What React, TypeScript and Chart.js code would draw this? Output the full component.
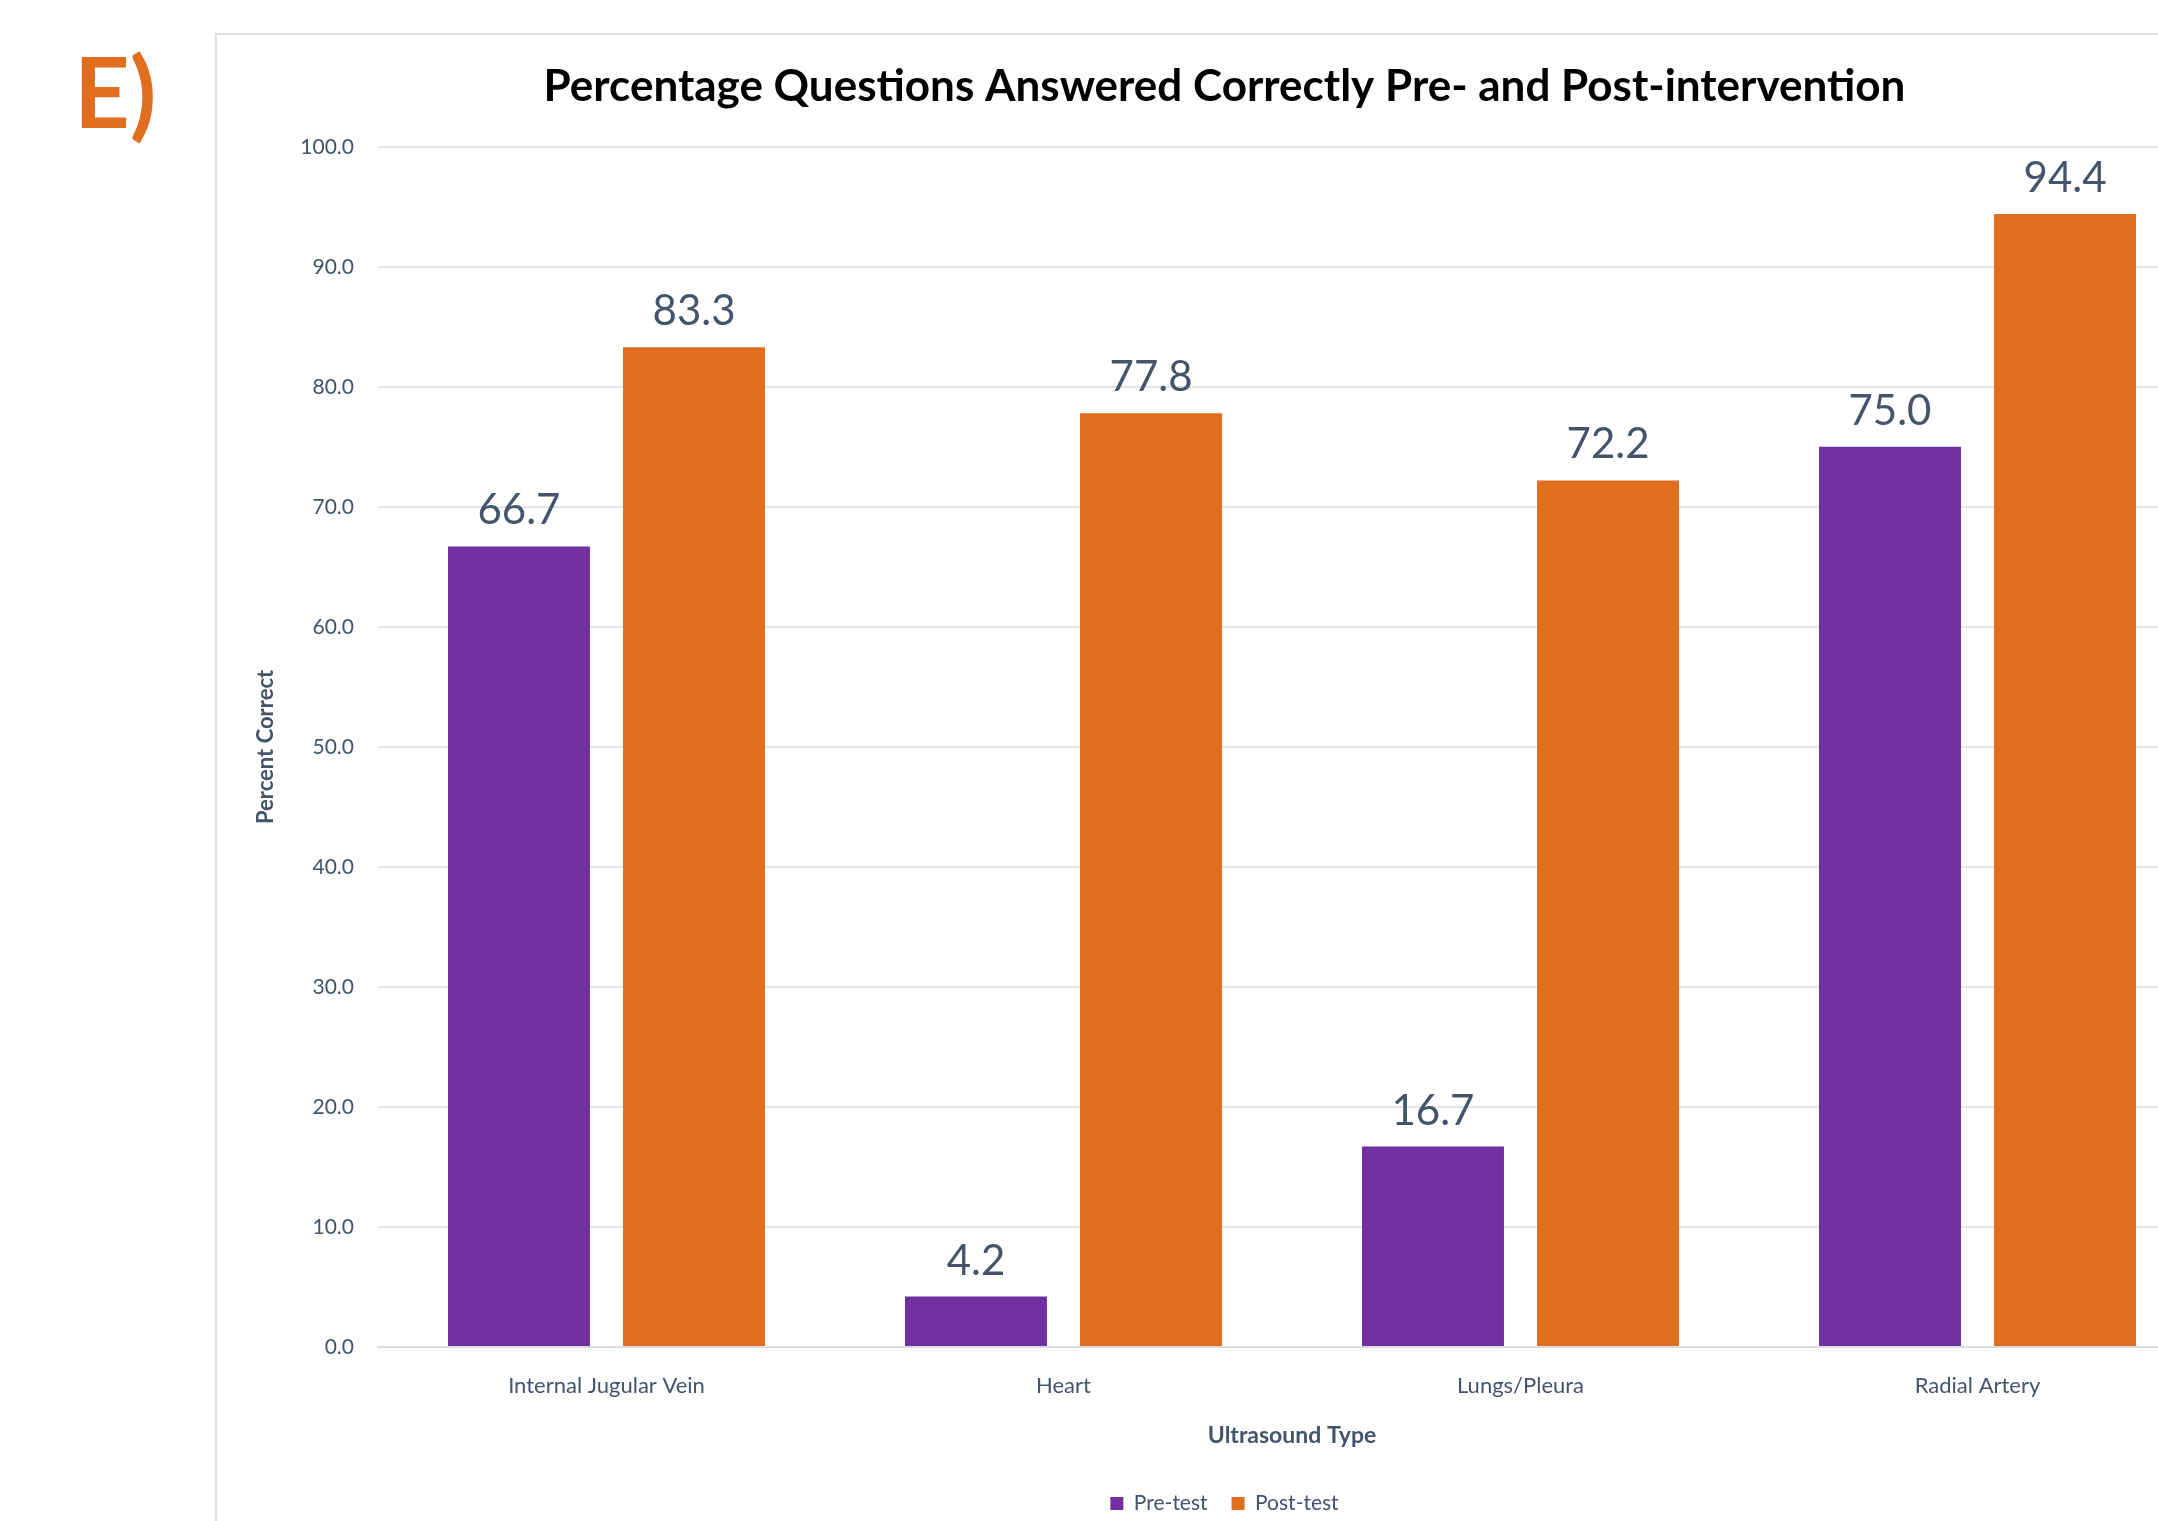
import React, { useEffect, useRef } from "react";
import { Chart, registerables } from "chart.js";

Chart.register(...registerables);

const categories = ["Internal Jugular Vein", "Heart", "Lungs/Pleura", "Radial Artery"];
const preTest = [66.7, 4.2, 16.7, 75.0];
const postTest = [83.3, 77.8, 72.2, 94.4];
const seriesNames = ["Pre-test", "Post-test"];
const chartTitle = "Percentage Questions Answered Correctly Pre- and Post-intervention";
const xTitle = "Ultrasound Type";
const yTitle = "Percent Correct";
const panelLabel = "E)";

const FONT = "Lato, 'Open Sans', sans-serif";
const TEXT = "#44546A";
const PURPLE = "#7030A0";
const ORANGE = "#E06E1E";

const CANVAS_W = 2014;
const CANVAS_H = 1489;

const dataLabels = {
  id: "dataLabels",
  afterDatasetsDraw(chart: any) {
    const ctx = chart.ctx;
    ctx.save();
    ctx.font = `42px ${FONT}`;
    ctx.fillStyle = TEXT;
    ctx.textAlign = "center";
    ctx.textBaseline = "alphabetic";
    chart.data.datasets.forEach((ds: any, i: number) => {
      const meta = chart.getDatasetMeta(i);
      meta.data.forEach((bar: any, j: number) => {
        ctx.fillText(Number(ds.data[j]).toFixed(1), bar.x, bar.y - 22);
      });
    });
    ctx.restore();
  },
};

function BarChart() {
  const ref = useRef<HTMLCanvasElement | null>(null);
  useEffect(() => {
    if (!ref.current) return;
    const chart = new Chart(ref.current, {
      type: "bar",
      data: {
        labels: categories,
        datasets: [
          { label: seriesNames[0], data: preTest, backgroundColor: PURPLE, categoryPercentage: 0.766, barPercentage: 0.811 },
          { label: seriesNames[1], data: postTest, backgroundColor: ORANGE, categoryPercentage: 0.766, barPercentage: 0.811 },
        ],
      },
      options: {
        responsive: false,
        animation: false,
        devicePixelRatio: 1,
        layout: { padding: { left: 26, right: 25, top: 0, bottom: 0 } },
        plugins: {
          title: {
            display: true,
            text: chartTitle,
            color: "#000000",
            font: { family: FONT, size: 44, weight: "bold" },
            padding: { top: 25, bottom: 34 },
          },
          legend: {
            position: "bottom",
            labels: {
              boxWidth: 13,
              boxHeight: 13,
              padding: 24,
              color: TEXT,
              font: { family: FONT, size: 21 },
            },
          },
          tooltip: { enabled: false },
        },
        scales: {
          x: {
            grid: { display: false, drawTicks: false },
            border: { display: true, color: "#D9DEE5", width: 2 },
            ticks: { color: TEXT, font: { family: FONT, size: 22 }, padding: 26 },
            title: {
              display: true,
              text: xTitle,
              color: TEXT,
              font: { family: FONT, size: 23, weight: "bold" },
              padding: { top: 0, bottom: 20 },
            },
            afterFit: (s: any) => {
              s.height = 122;
            },
          },
          y: {
            min: 0,
            max: 100,
            ticks: {
              stepSize: 10,
              callback: (v: any) => Number(v).toFixed(1),
              color: TEXT,
              font: { family: FONT, size: 21 },
              padding: 24,
            },
            grid: { color: "#E1E5EA", lineWidth: 2, drawTicks: false },
            border: { display: false },
            title: {
              display: true,
              text: yTitle,
              color: TEXT,
              font: { family: FONT, size: 22, weight: "bold" },
              padding: { top: 10, bottom: 0 },
            },
            afterFit: (s: any) => {
              s.width = 135;
            },
          },
        },
      },
      plugins: [dataLabels],
    } as any);
    return () => chart.destroy();
  }, []);
  return <canvas ref={ref} width={CANVAS_W} height={CANVAS_H} style={{ display: "block" }} />;
}

export default function App() {
  return (
    <div
      style={{
        position: "absolute",
        left: 0,
        top: 0,
        width: 2158,
        height: 1521,
        overflow: "hidden",
        background: "#ffffff",
      }}
    >
      <div
        style={{
          position: "absolute",
          left: 74,
          top: 42,
          fontFamily: FONT,
          fontWeight: "bold",
          fontSize: 97,
          lineHeight: 1,
          color: ORANGE,
        }}
      >
        {panelLabel}
      </div>
      <div
        style={{
          position: "absolute",
          left: 215,
          top: 33,
          width: CANVAS_W + 4,
          height: 1600,
          border: "2px solid #DCE1E7",
          boxSizing: "border-box",
        }}
      >
        <BarChart />
      </div>
    </div>
  );
}
